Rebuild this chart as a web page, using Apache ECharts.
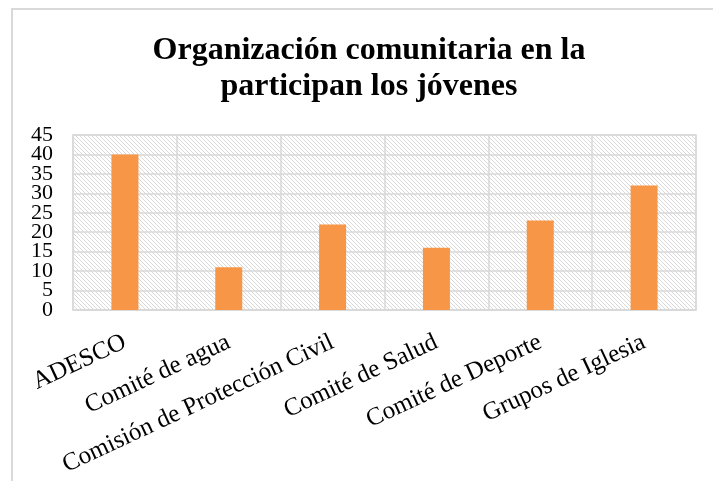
<!DOCTYPE html>
<html>
<head>
<meta charset="utf-8">
<script src="https://cdn.jsdelivr.net/npm/echarts@6/dist/echarts.min.js"></script>
<style>
html,body{margin:0;padding:0;background:#fff;}
#c{width:713px;height:481px;}
</style>
</head>
<body>
<div id="c"></div>
<script>
const titleText = 'Organización comunitaria en la\nparticipan los jóvenes';
const categories = ['ADESCO', 'Comité de agua', 'Comisión de Protección Civil', 'Comité de Salud', 'Comité de Deporte', 'Grupos de Iglesia'];
const values = [40, 11, 22, 16, 23, 32];
const yMin = 0, yMax = 45, yStep = 5;

function hatch() {
  const c = document.createElement('canvas');
  c.width = 4; c.height = 4;
  const g = c.getContext('2d');
  g.fillStyle = '#ffffff';
  g.fillRect(0, 0, 4, 4);
  g.fillStyle = '#d9d9d9';
  for (let i = 0; i < 4; i++) g.fillRect(i, i, 1, 1);
  return c;
}

const chart = echarts.init(document.getElementById('c'), null, {renderer: 'canvas'});
const serif = '"Liberation Serif", "Times New Roman", serif';
const yLabelStyle = {margin: 20, hideOverlap: false, fontFamily: serif, fontSize: 22, color: '#000'};
chart.setOption({
  animation: false,
  backgroundColor: '#ffffff',
  title: {
    text: titleText,
    left: 364,
    top: 28,
    textAlign: 'center',
    textStyle: {fontFamily: serif, fontWeight: 'bold', fontSize: 32, lineHeight: 36, color: '#000'}
  },
  graphic: [{
    type: 'rect', silent: true, z: -1,
    shape: {x: 12, y: 9, width: 1000, height: 1000},
    style: {fill: 'none', stroke: '#d9d9d9', lineWidth: 2}
  }],
  grid: {
    left: 73, right: 17, top: 135, bottom: 171,
    containLabel: false,
    outerBoundsMode: 'none',
    show: true,
    backgroundColor: {image: hatch(), repeat: 'repeat'},
    borderColor: '#d9d9d9',
    borderWidth: 1.5
  },
  xAxis: {
    type: 'category',
    data: categories,
    axisLine: {show: true, lineStyle: {color: '#d9d9d9', width: 1.5}},
    axisTick: {show: false},
    splitLine: {show: true, lineStyle: {color: '#d9d9d9', width: 1.5}},
    axisLabel: {
      interval: 0, rotate: 25, margin: 31, hideOverlap: false,
      fontFamily: serif, fontSize: 25, color: '#000'
    }
  },
  yAxis: [{
    type: 'value', position: 'left',
    min: yMin, max: yMax, interval: yStep,
    axisLine: {show: false},
    axisTick: {show: false},
    splitLine: {show: true, lineStyle: {color: '#d9d9d9', width: 1.5}},
    axisLabel: Object.assign({}, yLabelStyle, {
      showMinLabel: true, showMaxLabel: false,
      formatter: v => (v % (2 * yStep) === 0 ? String(v) : '')
    })
  }, {
    type: 'value', position: 'left', offset: 0,
    min: yMin, max: yMax, interval: yStep,
    axisLine: {show: false},
    axisTick: {show: false},
    splitLine: {show: false},
    axisLabel: Object.assign({}, yLabelStyle, {
      showMinLabel: false, showMaxLabel: true,
      formatter: v => (v % (2 * yStep) !== 0 ? String(v) : '')
    })
  }],
  series: [{
    type: 'bar',
    data: values,
    yAxisIndex: 0,
    barWidth: 27,
    itemStyle: {color: '#F79646'}
  }]
});
</script>
</body>
</html>
